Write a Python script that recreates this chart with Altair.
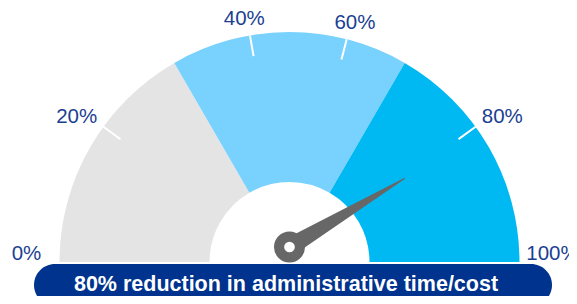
import math
import pandas as pd
import altair as alt

# ---- data ----
segment_bounds = [0, 33.3, 66.7, 100]
segment_names = ["low", "mid", "high"]
segment_colors = ["#e4e4e4", "#79d1fe", "#00b9f3"]

tick_labels = ["0%", "20%", "40%", "60%", "80%", "100%"]
tick_positions = [0, 20, 44.5, 58, 80, 100]   # where each tick sits on the dial (percent)
drawn_ticks = ["20%", "40%", "60%", "80%"]

needle_value = 80
banner_text = "80% reduction in administrative time/cost"

# ---- layout ----
W, H = 561, 288
CX, CY = 281.5, 254.0
R_OUT, R_IN = 230.0, 80.0
TICK_LEN = 21.0
LABEL_RX, LABEL_RY = 263.0, 247.0
LABEL_FS = 20.5
LABEL_FONT = "Liberation Sans"
LABEL_COLOR = "#1b3f92"
NAVY = "#00338e"
NEEDLE = "#676767"


def ang(p):
    return math.pi * (1 - p / 100.0)


xs = alt.Scale(domain=[(0 - CX) / R_OUT, (W - CX) / R_OUT], nice=False, zero=False)
ys = alt.Scale(domain=[(CY - H) / R_OUT, CY / R_OUT], nice=False, zero=False)

# arcs
seg_df = pd.DataFrame({
    "name": segment_names,
    "start": segment_bounds[:-1],
    "end": segment_bounds[1:],
    "cx": [0.0] * 3,
    "cy": [0.0] * 3,
})
arcs = alt.Chart(seg_df).mark_arc(stroke=None).encode(
    x=alt.X("cx:Q", scale=xs, axis=None),
    y=alt.Y("cy:Q", scale=ys, axis=None),
    theta=alt.Theta("start:Q", scale=alt.Scale(domain=[0, 100], range=[-math.pi / 2, math.pi / 2]), stack=None),
    theta2="end:Q",
    radius=alt.value(R_OUT),
    radius2=alt.value(R_IN),
    color=alt.Color("name:N", scale=alt.Scale(domain=segment_names, range=segment_colors), legend=None),
)

# ticks
trows = []
for lab, p in zip(tick_labels, tick_positions):
    if lab not in drawn_ticks:
        continue
    a = ang(p)
    r1 = 1.0
    r2 = (R_OUT - TICK_LEN) / R_OUT
    trows.append({"x": r1 * math.cos(a), "y": r1 * math.sin(a),
                  "x2": r2 * math.cos(a), "y2": r2 * math.sin(a)})
tick_df = pd.DataFrame(trows)
ticks = alt.Chart(tick_df).mark_rule(color="white", strokeWidth=2).encode(
    x=alt.X("x:Q", scale=xs, axis=None),
    y=alt.Y("y:Q", scale=ys, axis=None),
    x2="x2:Q", y2="y2:Q",
)

lrows = []
for lab, p in zip(tick_labels, tick_positions):
    a = ang(p)
    ax = LABEL_RX * math.cos(a)
    ay = max(LABEL_RY * math.sin(a), 8.0)
    lrows.append({"label": lab, "x": ax / R_OUT, "y": ay / R_OUT})
lab_df = pd.DataFrame(lrows)
labels = alt.Chart(lab_df).mark_text(
    font=LABEL_FONT, fontSize=LABEL_FS, color=LABEL_COLOR, align="center", baseline="middle"
).encode(
    x=alt.X("x:Q", scale=xs, axis=None),
    y=alt.Y("y:Q", scale=ys, axis=None),
    text="label:N",
)

# needle
a = ang(needle_value)
pivot = (0.0, 15.0 / R_OUT)
tip_r = 142.0 / R_OUT
needle_df = pd.DataFrame({
    "x": [pivot[0], tip_r * math.cos(a)],
    "y": [pivot[1], tip_r * math.sin(a)],
    "w": [18, 0],
    "o": [0, 1],
})
needle = alt.Chart(needle_df).mark_trail(color=NEEDLE).encode(
    x=alt.X("x:Q", scale=xs, axis=None),
    y=alt.Y("y:Q", scale=ys, axis=None),
    size=alt.Size("w:Q", scale=None, legend=None),
    order="o:Q",
)
piv_df = pd.DataFrame({"x": [pivot[0]], "y": [pivot[1]]})
pivot_c = alt.Chart(piv_df).mark_point(filled=True, shape="circle", size=961, color=NEEDLE, opacity=1).encode(
    x=alt.X("x:Q", scale=xs, axis=None),
    y=alt.Y("y:Q", scale=ys, axis=None),
)
hole = alt.Chart(piv_df).mark_point(filled=True, shape="circle", size=115, color="white", opacity=1).encode(
    x=alt.X("x:Q", scale=xs, axis=None),
    y=alt.Y("y:Q", scale=ys, axis=None),
)

# banner
ban_df = pd.DataFrame({"t": [banner_text]})
banner = alt.Chart(ban_df).mark_rect(color=NAVY, cornerRadius=21).encode(
    x=alt.value(26), x2=alt.value(544),
    y=alt.value(256), y2=alt.value(298),
)
banner_t = alt.Chart(ban_df).mark_text(
    font="Liberation Sans", fontSize=21.5, fontWeight="bold", color="white", align="center", baseline="middle"
).encode(
    x=alt.value(278), y=alt.value(277), text="t:N",
)

chart = alt.layer(arcs, ticks, labels, needle, pivot_c, hole, banner, banner_t).properties(
    width=W, height=H, padding=0, autosize=alt.AutoSizeParams(type="none"), background="white"
).configure_view(stroke=None)

chart.save("out.html", embed_options={"renderer": "svg", "actions": False})
